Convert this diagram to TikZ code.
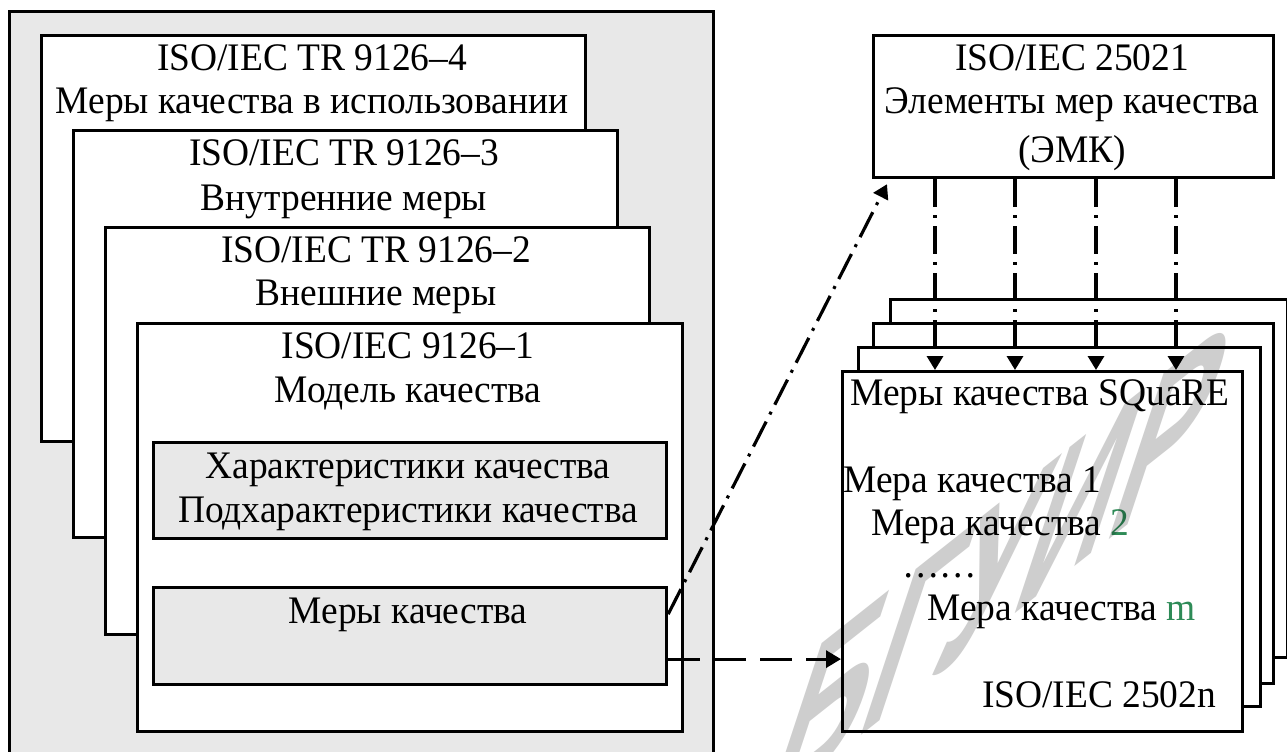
\documentclass[tikz,border=0pt]{standalone}
\usepackage{fontspec}
\setmainfont{Liberation Serif}
\newfontfamily\boxfont[FakeStretch=0.96]{Liberation Serif}
\newfontfamily\wmfont{Liberation Sans}
\usetikzlibrary{arrows.meta, calc}
\definecolor{panel}{RGB}{232,232,232}
\definecolor{mgreen}{RGB}{46,139,87}
\definecolor{wmgray}{RGB}{206,206,206}

\tikzset{
  box/.style={draw, line width=1.6pt, fill=white, inner sep=0pt, anchor=north west},
  lbl/.style={inner sep=0pt, anchor=base, font=\boxfont\fontsize{19.5}{22}\selectfont},
  dashdot/.style={line width=1.6pt, dash pattern=on 14pt off 4pt on 1.5pt off 4pt},
  longdash/.style={line width=1.6pt, dash pattern=on 16pt off 7pt},
  tip/.style={-{Triangle[length=7pt, width=8pt]}},
}

\begin{document}
\begin{tikzpicture}[x=0.5pt, y=-0.5pt]
  \useasboundingbox (0,0) rectangle (1287,751);
  \clip (0,0) rectangle (1287,751);
  % Left panel: ISO/IEC 9126 parts
  \node[box, fill=panel, minimum width=352pt, minimum height=380pt] (panel) at (8,10) {};
  \node[box, minimum width=272pt, minimum height=203pt] (b4) at (40,34) {};
  \node[lbl] (t4a) at (312,70) {ISO/IEC TR 9126–4};
  \node[lbl] (t4b) at (312,113) {Меры качества в использовании};
  \node[box, minimum width=272pt, minimum height=203.5pt] (b3) at (72,129) {};
  \node[lbl] (t3a) at (344,165) {ISO/IEC TR 9126–3};
  \node[lbl] (t3b) at (344,210) {Внутренние меры};
  \node[box, minimum width=272pt, minimum height=203.5pt] (b2) at (104,226) {};
  \node[lbl] (t2a) at (376,262) {ISO/IEC TR 9126–2};
  \node[lbl] (t2b) at (376,305) {Внешние меры};
  \node[box, minimum width=272.5pt, minimum height=204pt] (b1) at (136,322) {};
  \node[lbl] (t1a) at (408,358) {ISO/IEC 9126–1};
  \node[lbl] (t1b) at (408,402) {Модель качества};
  % Inner grey boxes
  \node[box, fill=panel, minimum width=256.5pt, minimum height=48pt] (hk) at (152,441) {};
  \node[lbl] (hka) at (408,478) {Характеристики качества};
  \node[lbl] (hkb) at (408,522) {Подхарактеристики качества};
  \node[box, fill=panel, minimum width=256.5pt, minimum height=48.5pt] (mq) at (152,586) {};
  \node[lbl] (mqa) at (408,623) {Меры качества};

  % ISO/IEC 25021
  \node[box, minimum width=200pt, minimum height=71pt] (emk) at (872,34) {};
  \node[lbl] (emka) at (1072,70) {ISO/IEC 25021};
  \node[lbl] (emkb) at (1072,113) {Элементы мер качества};
  \node[lbl] (emkc) at (1072,162) {(ЭМК)};

  % Stack of SQuaRE measures
  \node[box, minimum width=198.5pt, minimum height=179pt] (s4) at (889,298) {};
  \node[box, minimum width=200pt, minimum height=180pt] (s3) at (872,322) {};
  \node[box, minimum width=201pt, minimum height=179.5pt] (s2) at (857,346) {};
  \node[box, minimum width=200pt, minimum height=180pt] (s1) at (841,370) {};
  \node[lbl] (s1a) at (1040,405) {Меры качества SQuaRE};
  \node[lbl, anchor=base west] (m1) at (843,492) {Мера качества 1};
  \node[lbl, anchor=base west] (m2) at (871,535) {Мера качества \textcolor{mgreen}{2}};
  \node[lbl, anchor=base west] (mdots) at (902,577) {……};
  \node[lbl, anchor=base west] (mm) at (927,620) {Мера качества \textcolor{mgreen}{m}};
  \node[lbl] (s1b) at (1099,707) {ISO/IEC 2502n};

  % Connectors
  \foreach \dx [count=\i] in {63,143,224,304} {
    \coordinate (top\i) at ($(emk.south west)+(\dx,0)$);
    \draw[dashdot, tip] (top\i) -- (top\i |- s1.north);
  }
  \draw[dashdot, tip] ([yshift=11pt]mq.east) -- ([xshift=7.5pt, yshift=-2.5pt]emk.south west);
  \coordinate (mqout) at ([yshift=-11.5pt]mq.east);
  \draw[longdash, -{Triangle[length=7.5pt, width=8.5pt]}] (mqout) -- (mqout -| s1.west);

  % Watermark
  \begin{scope}[shift={(1000,565)}, cm={0.62,0.49,0.38,1.15,(0,0)}, blend mode=multiply]
    \node[wmgray, transform shape, font=\wmfont\bfseries\fontsize{105}{105}\selectfont] (wm) at (0,0) {БГУИР};
  \end{scope}
\end{tikzpicture}
\end{document}
